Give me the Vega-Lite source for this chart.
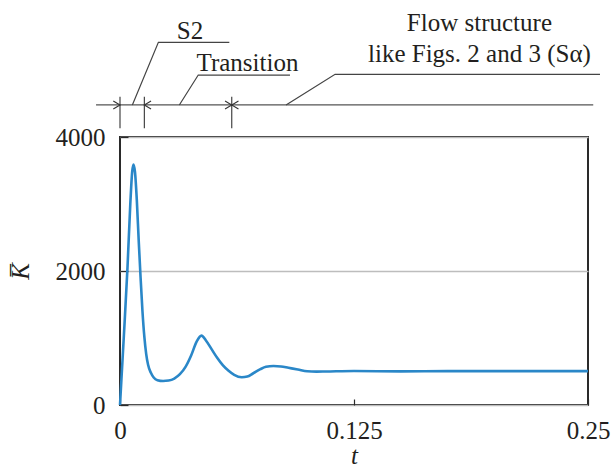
{
  "$schema": "https://vega.github.io/schema/vega-lite/v6.json",
  "width": 468,
  "height": 268,
  "autosize": {"type": "none"},
  "padding": {"left": 120, "top": 137, "right": 24, "bottom": 65},
  "background": "white",
  "config": {
    "view": {"stroke": "#2a2a2a", "strokeWidth": 2},
    "font": "'Liberation Serif', 'Times New Roman', serif",
    "text": {"font": "'Liberation Serif', 'Times New Roman', serif"}
  },
  "datasets": {
    "curve": [
      {"t": 0, "K": 0}, {"t": 0.002, "K": 1000}, {"t": 0.004, "K": 2050}, {"t": 0.0055, "K": 3000},
      {"t": 0.0065, "K": 3480}, {"t": 0.0072, "K": 3590}, {"t": 0.008, "K": 3480}, {"t": 0.009, "K": 3050},
      {"t": 0.010, "K": 2450}, {"t": 0.011, "K": 1900}, {"t": 0.012, "K": 1400}, {"t": 0.013, "K": 1020},
      {"t": 0.014, "K": 760}, {"t": 0.015, "K": 600}, {"t": 0.0165, "K": 480}, {"t": 0.018, "K": 410},
      {"t": 0.020, "K": 370}, {"t": 0.023, "K": 358}, {"t": 0.026, "K": 365}, {"t": 0.029, "K": 395},
      {"t": 0.032, "K": 460}, {"t": 0.035, "K": 570}, {"t": 0.038, "K": 740}, {"t": 0.041, "K": 950},
      {"t": 0.0435, "K": 1035}, {"t": 0.046, "K": 960}, {"t": 0.049, "K": 830}, {"t": 0.052, "K": 700},
      {"t": 0.055, "K": 590}, {"t": 0.058, "K": 510}, {"t": 0.061, "K": 450}, {"t": 0.065, "K": 415},
      {"t": 0.068, "K": 425}, {"t": 0.071, "K": 470}, {"t": 0.075, "K": 535}, {"t": 0.078, "K": 570},
      {"t": 0.082, "K": 582}, {"t": 0.086, "K": 575}, {"t": 0.090, "K": 555}, {"t": 0.095, "K": 530},
      {"t": 0.100, "K": 503}, {"t": 0.105, "K": 498}, {"t": 0.11, "K": 500}, {"t": 0.125, "K": 507},
      {"t": 0.15, "K": 502}, {"t": 0.175, "K": 505}, {"t": 0.2, "K": 505}, {"t": 0.225, "K": 505},
      {"t": 0.25, "K": 505}
    ],
    "dimline": [{"t1": -0.0128, "t2": 0.2528, "k": 4478}],
    "ext": [{"t": 0, "k1": 4130, "k2": 4601}, {"t": 0.013, "k1": 4130, "k2": 4601}, {"t": 0.0597, "k1": 4130, "k2": 4601}],
    "leaders": [
      {"g": "S2", "i": 0, "t": 0.0066, "k": 4478}, {"g": "S2", "i": 1, "t": 0.0205, "k": 5413}, {"g": "S2", "i": 2, "t": 0.0584, "k": 5413},
      {"g": "Tr", "i": 0, "t": 0.0317, "k": 4478}, {"g": "Tr", "i": 1, "t": 0.0418, "k": 4925}, {"g": "Tr", "i": 2, "t": 0.0908, "k": 4925},
      {"g": "Fl", "i": 0, "t": 0.0887, "k": 4478}, {"g": "Fl", "i": 1, "t": 0.1149, "k": 4936}, {"g": "Fl", "i": 2, "t": 0.2564, "k": 4936}
    ],
    "arrows": [
      {"t": 0, "k": 4478, "dir": "r"}, {"t": 0.013, "k": 4478, "dir": "l"},
      {"t": 0.0597, "k": 4478, "dir": "r"}, {"t": 0.0597, "k": 4478, "dir": "l"}
    ],
    "labels": [
      {"t": 0.0374, "k": 5470, "text": "S2"},
      {"t": 0.0681, "k": 4990, "text": "Transition"},
      {"t": 0.192, "k": 5582, "text": "Flow structure"},
      {"t": 0.192, "k": 5119, "text": "like Figs. 2 and 3 (Sα)"}
    ]
  },
  "layer": [
    {
      "data": {"name": "curve"},
      "mark": {"type": "line", "color": "#2a87c8", "strokeWidth": 2.6, "interpolate": "monotone"},
      "encoding": {
        "x": {
          "field": "t", "type": "quantitative",
          "scale": {"domain": [0, 0.25], "nice": false, "zero": false},
          "axis": {
            "values": [0, 0.125, 0.25], "format": ".3~f", "title": "t",
            "titleFontStyle": "italic", "titleFont": "'Liberation Serif', 'Times New Roman', serif", "titleFontWeight": "normal",
            "titleFontSize": 25, "titleColor": "#231f20", "titlePadding": 0,
            "labelFont": "'Liberation Serif', 'Times New Roman', serif", "labelFontSize": 25, "labelColor": "#231f20",
            "labelFlush": false, "labelPadding": 19, "tickSize": -6, "tickColor": "#2a2a2a", "tickWidth": 1.2,
            "domain": false, "grid": false
          }
        },
        "y": {
          "field": "K", "type": "quantitative",
          "scale": {"domain": [0, 4000], "nice": false},
          "axis": {
            "values": [0, 2000, 4000], "format": "d", "title": "K̅",
            "titleFontStyle": "italic", "titleFont": "'Liberation Serif', 'Times New Roman', serif", "titleFontWeight": "normal",
            "titleFontSize": 25, "titleColor": "#231f20", "titlePadding": 22,
            "labelFont": "'Liberation Serif', 'Times New Roman', serif", "labelFontSize": 25, "labelColor": "#231f20",
            "labelPadding": 23, "tickSize": -8, "tickColor": "#2a2a2a", "tickWidth": 1.2, "labelOverlap": false,
            "domain": false, "grid": true, "gridColor": "#bdbdbd", "gridWidth": 1.5
          }
        }
      }
    },
    {
      "data": {"name": "dimline"},
      "mark": {"type": "rule", "color": "#555555", "strokeWidth": 1.2},
      "encoding": {"x": {"field": "t1", "type": "quantitative"}, "x2": {"field": "t2"}, "y": {"field": "k", "type": "quantitative"}}
    },
    {
      "data": {"name": "ext"},
      "mark": {"type": "rule", "color": "#333333", "strokeWidth": 1.1},
      "encoding": {"x": {"field": "t", "type": "quantitative"}, "y": {"field": "k1", "type": "quantitative"}, "y2": {"field": "k2"}}
    },
    {
      "data": {"name": "leaders"},
      "mark": {"type": "line", "color": "#444444", "strokeWidth": 1.2},
      "encoding": {
        "x": {"field": "t", "type": "quantitative"},
        "y": {"field": "k", "type": "quantitative"},
        "detail": {"field": "g"},
        "order": {"field": "i", "type": "quantitative"}
      }
    },
    {
      "data": {"name": "arrows"},
      "transform": [{"filter": "datum.dir == 'r'"}],
      "mark": {"type": "point", "shape": "M-1,-0.6L0,0L-1,0.6", "filled": false, "size": 180, "color": "#333333", "strokeWidth": 1.1, "opacity": 1},
      "encoding": {"x": {"field": "t", "type": "quantitative"}, "y": {"field": "k", "type": "quantitative"}}
    },
    {
      "data": {"name": "arrows"},
      "transform": [{"filter": "datum.dir == 'l'"}],
      "mark": {"type": "point", "shape": "M1,-0.6L0,0L1,0.6", "filled": false, "size": 180, "color": "#333333", "strokeWidth": 1.1, "opacity": 1},
      "encoding": {"x": {"field": "t", "type": "quantitative"}, "y": {"field": "k", "type": "quantitative"}}
    },
    {
      "data": {"name": "labels"},
      "mark": {"type": "text", "font": "'Liberation Serif', 'Times New Roman', serif", "fontSize": 25, "color": "#231f20", "align": "center", "baseline": "alphabetic"},
      "encoding": {"x": {"field": "t", "type": "quantitative"}, "y": {"field": "k", "type": "quantitative"}, "text": {"field": "text"}}
    }
  ]
}
